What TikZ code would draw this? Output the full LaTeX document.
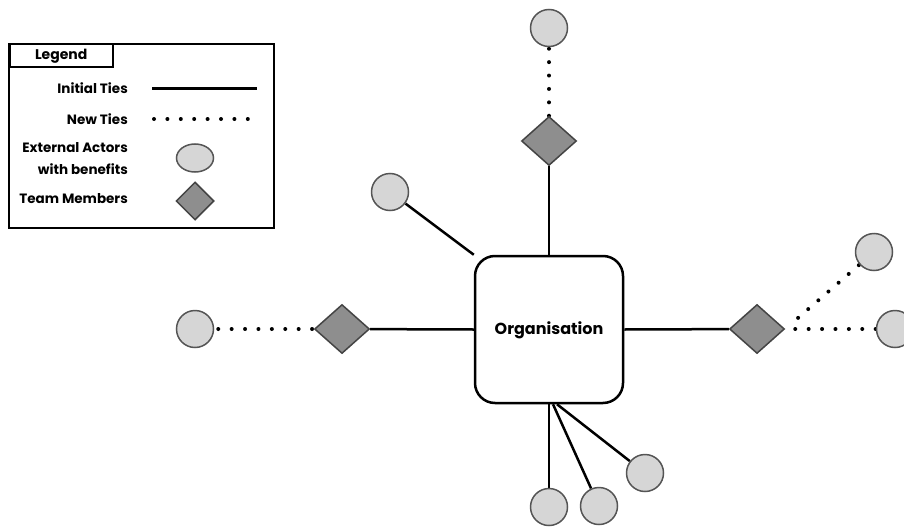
\documentclass[tikz,border=0pt]{standalone}
\usepackage{fontspec}
\setmainfont{Poppins}
\usetikzlibrary{shapes.geometric,backgrounds}
\definecolor{actorfill}{HTML}{D6D6D6}
\definecolor{actorline}{HTML}{555555}
\definecolor{memberfill}{HTML}{8E8E8E}
\definecolor{memberline}{HTML}{444444}
\begin{document}
\begin{tikzpicture}[x=1pt,y=-1pt,
  actor/.style={circle,draw=actorline,fill=actorfill,line width=1.5pt,minimum size=37pt,inner sep=0pt},
  member/.style={diamond,draw=memberline,fill=memberfill,line width=1.5pt,minimum width=55pt,minimum height=49pt,inner sep=0pt},
  tie/.style={line width=2.5pt,black},
  newtie/.style={line width=4pt,line cap=round,dash pattern=on 0pt off 13.4pt},
  lbl/.style={font=\bfseries\fontsize{13.5}{22}\selectfont,anchor=east,inner sep=0pt,align=right},
]
\useasboundingbox (0,0) rectangle (904,527);

% ---- legend ----
\draw[line width=1.5pt] (9,44) rectangle (274,228);
\node[draw,line width=1.5pt,anchor=north west,minimum width=103pt,minimum height=22pt,inner sep=0pt,
      font=\bfseries\fontsize{14}{16}\selectfont] (legtitle) at (9,44) {Legend};
\node[lbl] (lInitial) at (128,88) {Initial Ties};
\node[lbl] (lNew) at (128,119) {New Ties};
\node[lbl] (lExternal) at (128,159) {External Actors\\with benefits};
\node[lbl] (lTeam) at (128,199) {Team Members};
\coordinate (solidA) at (152,88);
\coordinate (solidB) at (257,88);
\draw[tie,line width=3pt] (solidA) -- (solidB);
\coordinate (dotA) at (154,119);
\coordinate (dotB) at (250,119);
\draw[newtie] (dotA) -- (dotB);
\node[ellipse,draw=actorline,fill=actorfill,line width=1.5pt,minimum width=37pt,minimum height=28pt,inner sep=0pt] (legactor) at (195,158) {};
\node[member,minimum width=38pt,minimum height=38pt] (legmember) at (195,201) {};

% ---- network ----
\node[draw,line width=2.5pt,rounded corners=20pt,fill=white,minimum width=148pt,minimum height=147pt,
      font=\bfseries\fontsize{16}{18}\selectfont] (org) at (549,329.5) {};
\node[font=\bfseries\fontsize{16}{18}\selectfont,inner sep=0pt] (orgText) at (549,330.5) {Organisation};

\node[member] (mTop) at (549,141) {};
\node[actor] (aTop) at (549,28) {};
\node[actor] (aUpLeft) at (390,192) {};
\node[member] (mLeft) at (342,329) {};
\node[actor] (aLeft) at (195,329) {};
\node[member] (mRight) at (757,329) {};
\node[actor] (aRight) at (895,329) {};
\node[actor] (aUpRight) at (874,252) {};
\node[actor] (aBot1) at (549,507) {};
\node[actor] (aBot2) at (599,506) {};
\node[actor] (aBot3) at (645,473) {};

\begin{scope}[on background layer]
  \draw[tie] (org.north) -- (mTop);
  \draw[newtie] (mTop) -- (aTop);
  \draw[tie] (aUpLeft) -- (org.north west);
  \draw[tie] (org.west) -- (mLeft);
  \draw[newtie,shorten <=4pt] (aLeft) -- (mLeft);
  \draw[tie] (org.east) -- (mRight);
  \draw[newtie,shorten <=10pt] (mRight) -- (aRight);
  \draw[newtie,shorten <=17pt] (mRight.east) -- (aUpRight);
  \draw[tie] (org.south) -- (aBot1);
  \draw[tie] ([xshift=4pt]org.south) -- (aBot2);
  \draw[tie] ([xshift=8pt]org.south) -- (aBot3);
\end{scope}
\end{tikzpicture}
\end{document}
